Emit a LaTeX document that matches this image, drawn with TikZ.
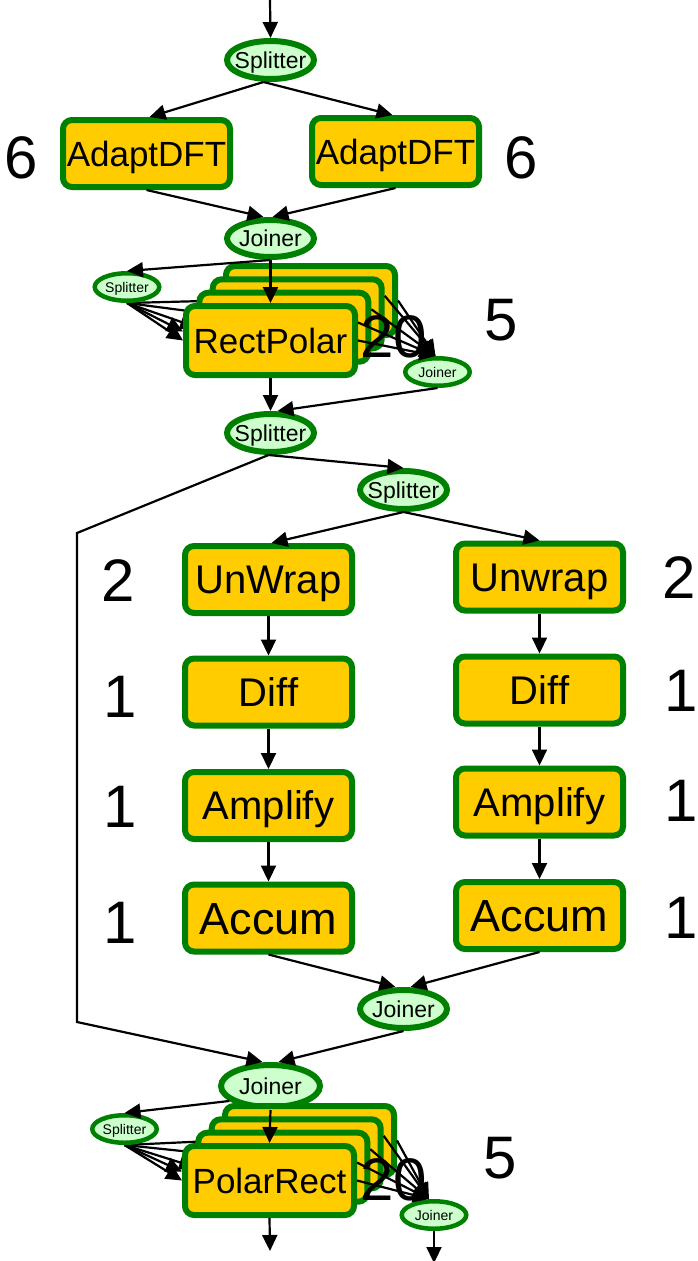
\documentclass[tikz,border=0pt]{standalone}
\usepackage{fontspec}
\setmainfont{Liberation Sans}
\usetikzlibrary{shapes.geometric,arrows.meta,backgrounds}
\definecolor{bord}{HTML}{008000}
\definecolor{boxfill}{HTML}{FFCC00}
\definecolor{ellfill}{HTML}{CCFFCC}
\newcommand{\fsz}[1]{\fontsize{#1}{#1}\selectfont}
\begin{document}
\begin{tikzpicture}[x=1pt,y=-1pt,
  filt/.style={draw=bord, fill=boxfill, line width=6pt, rounded corners=9pt,
    minimum width=167pt, minimum height=67pt, inner sep=0pt, text depth=0pt},
  stackbox/.style={filt, minimum width=169pt, minimum height=69pt},
  fa/.style={font=\fsz{35}, text height=25pt},
  fb/.style={font=\fsz{40}, text height=28.6pt},
  fc/.style={font=\fsz{45}, text height=32.2pt},
  bigell/.style={ellipse, draw=bord, fill=ellfill, line width=6pt, inner sep=0pt,
    minimum width=87pt, minimum height=38pt},
  hugeell/.style={bigell, minimum width=99pt, minimum height=42pt},
  smell/.style={ellipse, draw=bord, fill=ellfill, line width=4.5pt, inner sep=0pt,
    minimum width=64.5pt, minimum height=27.5pt},
  lblbig/.style={font=\fsz{23}, text height=16.5pt, text depth=0pt, inner sep=0pt},
  lblsm/.style={font=\fsz{14}, text height=10pt, text depth=0pt, inner sep=0pt},
  num/.style={font=\fsz{60}, inner sep=0pt, text height=43pt, text depth=0pt},
  conn/.style={line width=2.2pt, draw=black},
  arr/.style={conn, -{Triangle[length=16pt,width=15pt]}}
]
\useasboundingbox (0,0) rectangle (698,1261);

% free end points
\coordinate (in) at (270,0);
\coordinate (b1) at (77,533);
\coordinate (b2) at (77,1022);
\coordinate (o1) at (270,1251);
\coordinate (o2) at (434,1263);

% ---------- top part ----------
\node[bigell, label={[lblbig]center:Splitter}] (s1) at (270.5,60) {};
\node[filt, fa] (ad1) at (146.5,153.5) {AdaptDFT};
\node[filt, fa] (ad2) at (395.5,151.5) {AdaptDFT};
\node[num] (n6a) at (21.5,157) {6};
\node[num] (n6b) at (521,157) {6};
\node[bigell, minimum height=37pt, label={[lblbig]center:Joiner}] (j1) at (270.5,238.5) {};

% RectPolar stack
\node[smell, label={[lblsm]center:Splitter}] (ss1) at (127,287) {};
\node[smell, label={[lblsm]center:Joiner}] (sj1) at (437.5,372) {};
\node[stackbox, fa] (rp3) at (310.5,300.5) {};
\node[stackbox, fa] (rp2) at (297.2,313.8) {};
\node[stackbox, fa] (rp1) at (283.8,327.2) {};
\node[stackbox, fa] (rp0) at (270.5,340.5) {RectPolar};

\begin{pgfonlayer}{background}
\draw[arr] (ss1.south) -- (rp3.west);
\draw[arr] (ss1.south) -- (rp2.west);
\draw[arr] (ss1.south) -- (rp1.west);
\draw[arr] (ss1.south) -- ([yshift=9pt]rp0.west);
\draw[arr] (ss1.south) -- (rp0.west);
\end{pgfonlayer}

\draw[arr] (in) -- (s1.north);
\draw[arr] ([xshift=-7pt]s1.south) -- ([xshift=3pt]ad1.north);
\draw[arr] ([xshift=-7pt]s1.south) -- ([xshift=-3pt]ad2.north);
\draw[arr] (ad1.south) -- ([xshift=-7pt]j1.north);
\draw[arr] (ad2.south) -- ([xshift=2pt]j1.north);
\draw[arr] (j1.south) -- (ss1.north);
\draw[arr] (j1.south) -- (rp0.north);
\draw[arr] (rp3.east) -- ([xshift=-2pt]sj1.north);
\draw[arr] ([yshift=18pt]rp2.east) -- ([xshift=-2pt]sj1.north);
\draw[arr] ([yshift=18pt]rp1.east) -- ([xshift=-2pt]sj1.north);
\draw[arr] ([yshift=18pt]rp0.east) -- ([xshift=-2pt]sj1.north);
\draw[arr] (rp0.east) -- ([xshift=-2pt]sj1.north);
\node[num] (n20a) at (394,336) {20};
\node[num] (n5a) at (501,319) {5};

% ---------- middle ----------
\node[bigell, label={[lblbig]center:Splitter}] (s2) at (270.5,433) {};
\node[bigell, label={[lblbig]center:Splitter}] (s3) at (403.5,490) {};
\draw[arr] (rp0.south) -- (s2.north);
\draw[arr] (sj1.south) -- ([xshift=7pt]s2.north);
\draw[arr] ([xshift=-2pt]s2.south) -- (s3.north);

\node[filt, fb] (uw1) at (268.5,579.5) {UnWrap};
\node[filt, fb] (df1) at (268.5,692) {Diff};
\node[filt, fb] (am1) at (268.5,805.5) {Amplify};
\node[filt, fc] (ac1) at (268.5,918) {Accum};
\node[filt, fb] (uw2) at (539.5,577) {Unwrap};
\node[filt, fb] (df2) at (539.5,690) {Diff};
\node[filt, fb] (am2) at (539.5,802) {Amplify};
\node[filt, fc] (ac2) at (539.5,915.5) {Accum};

\node[num] (l2a) at (118,580) {2};
\node[num] (l1a) at (120,696) {1};
\node[num] (l1b) at (120,806) {1};
\node[num] (l1c) at (120,922) {1};
\node[num] (r2a) at (679,577) {2};
\node[num] (r1a) at (681,690) {1};
\node[num] (r1b) at (681,800) {1};
\node[num] (r1c) at (681,917) {1};

\draw[arr] (s3.south) -- ([xshift=3pt]uw1.north);
\draw[arr] (s3.south) -- (uw2.north);
\draw[arr] (uw1.south) -- (df1.north);
\draw[arr] (df1.south) -- (am1.north);
\draw[arr] (am1.south) -- (ac1.north);
\draw[arr] (uw2.south) -- (df2.north);
\draw[arr] (df2.south) -- (am2.north);
\draw[arr] (am2.south) -- (ac2.north);

\node[bigell, label={[lblbig]center:Joiner}] (j4) at (403.5,1009) {};
\node[hugeell, label={[lblbig]center:Joiner}] (j5) at (270.5,1086) {};
\draw[arr] (ac1.south) -- ([xshift=-8pt]j4.north);
\draw[arr] (ac2.south) -- ([xshift=7pt]j4.north);
\draw[arr] (j4.south) -- ([xshift=8pt]j5.north);
\draw[arr] ([xshift=-2pt]s2.south) -- (b1) -- (b2) -- ([xshift=-8pt]j5.north);

% ---------- PolarRect stack ----------
\node[smell, label={[lblsm]center:Splitter}] (ss2) at (124.5,1129) {};
\node[smell, label={[lblsm]center:Joiner}] (sj2) at (434,1215) {};
\node[stackbox, fa] (pr3) at (309.5,1140.5) {};
\node[stackbox, fa] (pr2) at (296.2,1153.8) {};
\node[stackbox, fa] (pr1) at (282.8,1167.2) {};
\node[stackbox, fa] (pr0) at (269.5,1180.5) {PolarRect};

\begin{pgfonlayer}{background}
\draw[arr] (ss2.south) -- (pr3.west);
\draw[arr] (ss2.south) -- (pr2.west);
\draw[arr] (ss2.south) -- (pr1.west);
\draw[arr] (ss2.south) -- ([yshift=9pt]pr0.west);
\draw[arr] (ss2.south) -- (pr0.west);
\end{pgfonlayer}

\draw[arr] (j5.200) -- (ss2.north);
\draw[arr] (j5.south) -- (pr0.north);
\draw[arr] (pr3.east) -- ([xshift=-5pt]sj2.north);
\draw[arr] ([yshift=18pt]pr2.east) -- ([xshift=-5pt]sj2.north);
\draw[arr] ([yshift=18pt]pr1.east) -- ([xshift=-5pt]sj2.north);
\draw[arr] ([yshift=18pt]pr0.east) -- ([xshift=-5pt]sj2.north);
\draw[arr] (pr0.east) -- ([xshift=-5pt]sj2.north);
\node[num] (n20b) at (394,1179) {20};
\node[num] (n5b) at (500,1157) {5};
\draw[arr] (pr0.south) -- (o1);
\draw[arr] (sj2.south) -- (o2);
\end{tikzpicture}
\end{document}
